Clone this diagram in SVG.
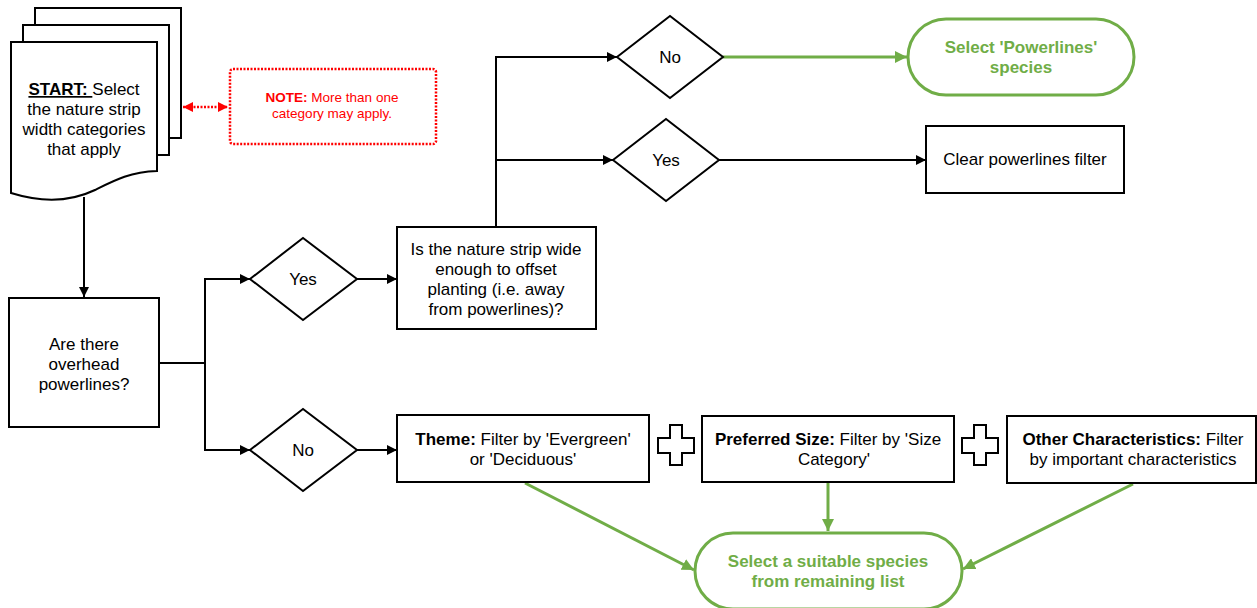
<svg xmlns="http://www.w3.org/2000/svg" width="1257" height="608" viewBox="0 0 1257 608">
<style>
  .t{font-family:"Liberation Sans",Arial,sans-serif;font-size:17px;fill:#000;text-anchor:middle}
  .b{font-weight:bold}
  .g{fill:#70AD47;font-weight:bold}
  .r{fill:#FF0000;font-size:13.5px}
  .shape{fill:#fff;stroke:#000;stroke-width:2}
  .term{fill:#fff;stroke:#70AD47;stroke-width:3}
  .c{fill:none;stroke:#000;stroke-width:2}
  .cg{fill:none;stroke:#70AD47;stroke-width:3}
</style>
<defs>
  <marker id="ab" viewBox="0 0 10 10" refX="10" refY="5" markerWidth="10" markerHeight="10" markerUnits="userSpaceOnUse" orient="auto"><path d="M0,0 L10,5 L0,10 Z" fill="#000"/></marker>
  <marker id="ag" viewBox="0 0 10 10" refX="10" refY="5" markerWidth="12" markerHeight="12" markerUnits="userSpaceOnUse" orient="auto"><path d="M0,0 L10,5 L0,10 Z" fill="#70AD47"/></marker>
  <marker id="ar" viewBox="0 0 10 10" refX="10" refY="5" markerWidth="10" markerHeight="10" markerUnits="userSpaceOnUse" orient="auto-start-reverse"><path d="M0,0 L10,5 L0,10 Z" fill="#FF0000"/></marker>
</defs>
<rect width="1257" height="608" fill="#fff"/>

<g id="connectors">
  <path class="c" d="M84,197 V297" marker-end="url(#ab)"/>
  <path class="c" d="M159,363 H205 V279 H250" marker-end="url(#ab)"/>
  <path class="c" d="M205,363 V450 H250" marker-end="url(#ab)"/>
  <path class="c" d="M357,279 H397" marker-end="url(#ab)"/>
  <path class="c" d="M357,450 H397" marker-end="url(#ab)"/>
  <path class="c" d="M496,227 V57 H617" marker-end="url(#ab)"/>
  <path class="c" d="M496,160 H613" marker-end="url(#ab)"/>
  <path class="c" d="M719,160 H926" marker-end="url(#ab)"/>
  <path class="cg" d="M723,57 H907" marker-end="url(#ag)"/>
  <path class="cg" d="M525,483 L694,570" marker-end="url(#ag)"/>
  <path class="cg" d="M828,483 V531" marker-end="url(#ag)"/>
  <path class="cg" d="M1133,484 L963,569" marker-end="url(#ag)"/>
  <path d="M183,107 H228" fill="none" stroke="#FF0000" stroke-width="2.5" stroke-dasharray="2,1.5" marker-start="url(#ar)" marker-end="url(#ar)"/>
</g>

<g id="start">
  <rect class="shape" x="35" y="8" width="146" height="130"/>
  <rect class="shape" x="23" y="25" width="146" height="130"/>
  <path class="shape" d="M11,42 H157 V171 C130,172 115,180 95,190 C70,202 40,202 11,193 Z"/>
  <text class="t" x="84" y="95"><tspan class="b" text-decoration="underline">START: </tspan>Select</text>
  <text class="t" x="84" y="115">the nature strip</text>
  <text class="t" x="84" y="135">width categories</text>
  <text class="t" x="84" y="155">that apply</text>
</g>

<g id="note">
  <rect x="230" y="69" width="206" height="75" rx="3" fill="#fff" stroke="#FF0000" stroke-width="2.5" stroke-dasharray="2,1.5"/>
  <text class="t r" x="332" y="102"><tspan font-weight="bold">NOTE:</tspan> More than one</text>
  <text class="t r" x="332" y="118">category may apply.</text>
</g>

<g id="powerlines-q">
  <rect class="shape" x="9" y="298" width="150" height="129"/>
  <text class="t" x="84" y="350">Are there</text>
  <text class="t" x="84" y="370">overhead</text>
  <text class="t" x="84" y="390">powerlines?</text>
</g>

<g id="yes1">
  <path class="shape" d="M250,279 L303,238 L357,279 L303,320 Z"/>
  <text class="t" x="303" y="285">Yes</text>
</g>

<g id="no1">
  <path class="shape" d="M250,450 L303,409 L357,450 L303,491 Z"/>
  <text class="t" x="303" y="456">No</text>
</g>

<g id="wide-q">
  <rect class="shape" x="397" y="227" width="199" height="102"/>
  <text class="t" x="496" y="255">Is the nature strip wide</text>
  <text class="t" x="496" y="275">enough to offset</text>
  <text class="t" x="496" y="295">planting (i.e. away</text>
  <text class="t" x="496" y="315">from powerlines)?</text>
</g>

<g id="no2">
  <path class="shape" d="M617,57 L670,16 L723,57 L670,98 Z"/>
  <text class="t" x="670" y="63">No</text>
</g>

<g id="yes2">
  <path class="shape" d="M613,160 L666,119 L719,160 L666,201 Z"/>
  <text class="t" x="666" y="166">Yes</text>
</g>

<g id="powerlines-species">
  <rect class="term" x="908" y="19" width="226" height="76" rx="38"/>
  <text class="t g" x="1021" y="53">Select 'Powerlines'</text>
  <text class="t g" x="1021" y="73">species</text>
</g>

<g id="clear-filter">
  <rect class="shape" x="926" y="126" width="198" height="67"/>
  <text class="t" x="1025" y="165">Clear powerlines filter</text>
</g>

<g id="theme">
  <rect class="shape" x="397" y="415" width="252" height="67"/>
  <text class="t" x="523" y="445"><tspan class="b">Theme:</tspan> Filter by 'Evergreen'</text>
  <text class="t" x="523" y="465">or 'Deciduous'</text>
</g>

<g id="plus1">
  <path class="shape" d="M670,425 H682 V438 H694 V453 H682 V465 H670 V453 H658 V438 H670 Z"/>
</g>

<g id="size">
  <rect class="shape" x="702" y="416" width="252" height="66"/>
  <text class="t" x="828" y="445"><tspan class="b">Preferred Size:</tspan> Filter by 'Size</text>
  <text class="t" x="834" y="465">Category'</text>
</g>

<g id="plus2">
  <path class="shape" d="M974,425 H986 V438 H998 V453 H986 V465 H974 V453 H962 V438 H974 Z"/>
</g>

<g id="other">
  <rect class="shape" x="1007" y="416" width="249" height="67"/>
  <text class="t" x="1133" y="445"><tspan class="b">Other Characteristics:</tspan> Filter</text>
  <text class="t" x="1133" y="465">by important characteristics</text>
</g>

<g id="select-species">
  <rect class="term" x="695" y="533" width="267" height="76" rx="38"/>
  <text class="t g" x="828" y="567">Select a suitable species</text>
  <text class="t g" x="828" y="587">from remaining list</text>
</g>
</svg>
